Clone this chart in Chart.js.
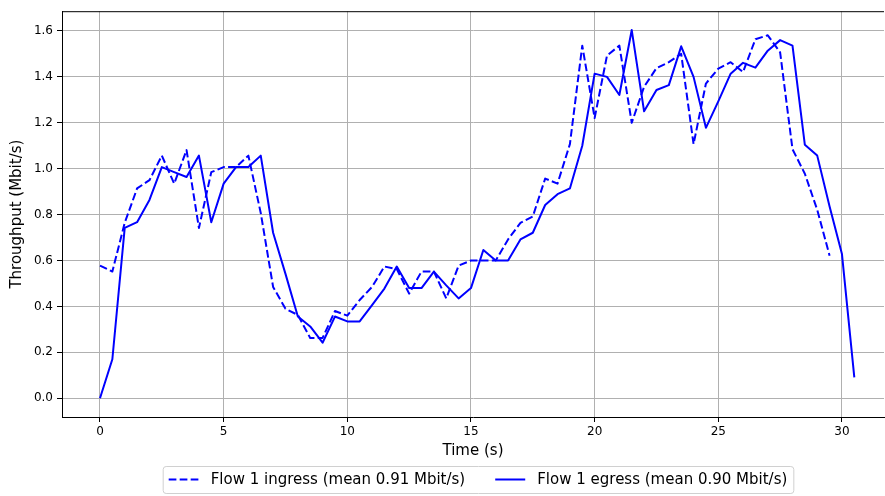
<!DOCTYPE html>
<html>
<head>
<meta charset="utf-8">
<script src="https://cdn.jsdelivr.net/npm/chart.js@4"></script>
<style>
  html, body { margin: 0; padding: 0; background: #fff; }
  canvas { display: block; }
</style>
</head>
<body>
<canvas id="throughput" width="885" height="496"></canvas>
<script>
// seconds, sampled every 0.5 s
const times = [
  0, 0.5, 1, 1.5, 2, 2.5, 3, 3.5, 4, 4.5, 5, 5.5, 6, 6.5, 7, 7.5, 8, 8.5, 9, 9.5,
  10, 10.5, 11, 11.5, 12, 12.5, 13, 13.5, 14, 14.5, 15, 15.5, 16, 16.5, 17, 17.5,
  18, 18.5, 19, 19.5, 20, 20.5, 21, 21.5, 22, 22.5, 23, 23.5, 24, 24.5, 25, 25.5,
  26, 26.5, 27, 27.5, 28, 28.5, 29, 29.5, 30, 30.5,
];

// Mbit/s, 0 .. 29.5 s
const ingress = [
  0.578, 0.552, 0.764, 0.914, 0.95, 1.057, 0.935, 1.081, 0.742, 0.985,
  1.007, 1.007, 1.057, 0.807, 0.485, 0.39, 0.363, 0.263, 0.263, 0.38,
  0.36, 0.428, 0.485, 0.574, 0.563, 0.456, 0.552, 0.552, 0.435, 0.578,
  0.6, 0.6, 0.6, 0.692, 0.764, 0.792, 0.957, 0.935, 1.107, 1.536,
  1.221, 1.493, 1.536, 1.2, 1.357, 1.438, 1.464, 1.5, 1.107, 1.371,
  1.436, 1.464, 1.421, 1.564, 1.581, 1.507, 1.085, 0.978, 0.821, 0.621,
];

// Mbit/s, 0 .. 30.5 s
const egress = [
  0, 0.17, 0.742, 0.767, 0.864, 1.007, 0.985, 0.964, 1.057, 0.767,
  0.935, 1.007, 1.007, 1.057, 0.721, 0.542, 0.356, 0.313, 0.242, 0.356,
  0.335, 0.335, 0.406, 0.478, 0.574, 0.48, 0.48, 0.552, 0.492, 0.435,
  0.48, 0.646, 0.6, 0.6, 0.692, 0.721, 0.842, 0.889, 0.914, 1.1,
  1.414, 1.4, 1.321, 1.604, 1.25, 1.343, 1.364, 1.533, 1.4, 1.178,
  1.293, 1.414, 1.461, 1.44, 1.514, 1.56, 1.536, 1.104, 1.057, 0.835,
  0.628, 0.091,
];

const xTicks = [0, 5, 10, 15, 20, 25, 30];
const yTicks = [0, 0.2, 0.4, 0.6, 0.8, 1.0, 1.2, 1.4, 1.6];

const legendLabels = ["Flow 1 ingress (mean 0.91 Mbit/s)", "Flow 1 egress (mean 0.90 Mbit/s)"];

const FONT = "'DejaVu Sans', sans-serif";

// top spine + matplotlib-style framed legend
const frame = {
  id: "frame",
  afterDraw(chart) {
    const { ctx, chartArea } = chart;
    ctx.save();
    ctx.strokeStyle = "#000";
    ctx.lineWidth = 1;
    ctx.beginPath();
    ctx.moveTo(chartArea.left, chartArea.top + 0.5);
    ctx.lineTo(chartArea.right, chartArea.top + 0.5);
    ctx.stroke();

    ctx.font = "15px " + FONT;
    const handle = 30, pad = 12, col = 30, border = 6;
    const w = legendLabels.map((t) => ctx.measureText(t).width);
    const total = border * 2 + handle * 2 + pad * 2 + w[0] + w[1] + col;
    const left = 478 - total / 2;
    const top = 466, h = 27, mid = top + h / 2;

    ctx.fillStyle = "rgba(255,255,255,0.8)";
    ctx.strokeStyle = "#d0d0d0";
    ctx.beginPath();
    ctx.roundRect(left + 0.5, top + 0.5, total, h, 3);
    ctx.fill();
    ctx.stroke();

    let x = left + border;
    chart.data.datasets.forEach((ds, i) => {
      ctx.strokeStyle = ds.borderColor;
      ctx.lineWidth = ds.borderWidth;
      ctx.setLineDash(ds.borderDash || []);
      ctx.beginPath();
      ctx.moveTo(x, mid);
      ctx.lineTo(x + handle, mid);
      ctx.stroke();
      ctx.setLineDash([]);
      ctx.fillStyle = "#000";
      ctx.textBaseline = "middle";
      ctx.fillText(legendLabels[i], x + handle + pad, mid + 1);
      x += handle + pad + w[i] + col;
    });
    ctx.restore();
  },
};

new Chart(document.getElementById("throughput"), {
  type: "line",
  data: {
    datasets: [
      {
        label: legendLabels[0],
        data: ingress.map((v, i) => ({ x: times[i], y: v })),
        borderColor: "#0000ff",
        borderWidth: 2,
        borderDash: [7.7, 3.3],
        borderCapStyle: "butt",
        borderJoinStyle: "round",
        pointRadius: 0,
        tension: 0,
        fill: false,
      },
      {
        label: legendLabels[1],
        data: egress.map((v, i) => ({ x: times[i], y: v })),
        borderColor: "#0000ff",
        borderWidth: 2,
        borderCapStyle: "butt",
        borderJoinStyle: "round",
        pointRadius: 0,
        tension: 0,
        fill: false,
      },
    ],
  },
  options: {
    responsive: false,
    animation: false,
    layout: { padding: { top: 5, right: 1, left: 0, bottom: 33 } },
    plugins: {
      legend: { display: false },
      tooltip: { enabled: false },
    },
    scales: {
      x: {
        type: "linear",
        min: -1.536,
        max: 31.7,
        afterBuildTicks: (scale) => {
          scale.ticks = xTicks.map((v) => ({ value: v }));
        },
        afterFit: (scale) => {
          scale.height = 46;
        },
        ticks: {
          color: "#000",
          font: { family: FONT, size: 12 },
          padding: 3,
          maxRotation: 0,
        },
        grid: {
          color: "#b0b0b0",
          lineWidth: 1,
          tickLength: 5,
          tickColor: "#000",
        },
        border: { color: "#000", width: 1 },
        title: {
          display: true,
          text: "Time (s)",
          color: "#000",
          font: { family: FONT, size: 15 },
          padding: { top: 0, bottom: 3 },
        },
      },
      y: {
        min: -0.0815,
        max: 1.686,
        afterBuildTicks: (scale) => {
          scale.ticks = yTicks.map((v) => ({ value: v }));
        },
        afterFit: (scale) => {
          scale.width = 62;
        },
        ticks: {
          color: "#000",
          font: { family: FONT, size: 12 },
          padding: 4,
          callback: (v) => v.toFixed(1),
        },
        grid: {
          color: "#b0b0b0",
          lineWidth: 1,
          tickLength: 5,
          tickColor: "#000",
        },
        border: { color: "#000", width: 1 },
        title: {
          display: true,
          text: "Throughput (Mbit/s)",
          color: "#000",
          font: { family: FONT, size: 15 },
          padding: { top: 8, bottom: 0 },
        },
      },
    },
  },
  plugins: [frame],
});
</script>
</body>
</html>
